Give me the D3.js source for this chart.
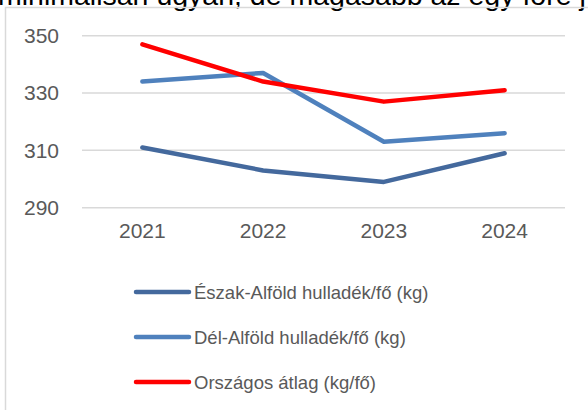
<!DOCTYPE html>
<meta charset="utf-8">
<style>
body { margin: 0; background: #fff; }
text { font-family: "Liberation Sans", Arial, sans-serif; fill: #595959; }
</style>
<svg width="588" height="410"></svg>
<script src="https://d3js.org/d3.v7.min.js"></script>
<script>

var years = ["2021", "2022", "2023", "2024"];
var eszakAlfold = [311, 303, 299, 309];
var delAlfold = [334, 337, 313, 316];
var orszagos = [347, 334, 327, 331];
var yTicks = [290, 310, 330, 350];
var seriesNames = ["Észak-Alföld hulladék/fő (kg)", "Dél-Alföld hulladék/fő (kg)", "Országos átlag (kg/fő)"];

var series = [
  { name: seriesNames[0], values: eszakAlfold, color: "#44699d" },
  { name: seriesNames[1], values: delAlfold, color: "#4f81bd" },
  { name: seriesNames[2], values: orszagos, color: "#ff0000" }
];

var svg = d3.select("svg");

// cut-off line of text from the document above the chart
svg.append("text")
    .attr("x", -2)
    .attr("y", 5)
    .style("fill", "#000")
    .style("font-size", "28.5px")
    .text("minimálisan ugyan, de magasabb az egy főre j");

// chart frame
svg.append("rect")
    .attr("x", 5.5).attr("y", 7.5)
    .attr("width", 620).attr("height", 430)
    .attr("fill", "none")
    .attr("stroke", "#d9d9d9")
    .attr("stroke-width", 1.5);

var x = d3.scaleBand().domain(years).range([82, 565]);
var y = d3.scaleLinear().domain([290, 350]).range([207.7, 35.7]);

// gridlines
svg.append("g").selectAll("line")
  .data(yTicks)
  .enter().append("line")
    .attr("x1", 82).attr("x2", 565)
    .attr("y1", function(d) { return y(d); })
    .attr("y2", function(d) { return y(d); })
    .attr("stroke", "#d9d9d9")
    .attr("stroke-width", 1.5);

var yAxis = d3.axisLeft(y).tickValues(yTicks).tickSize(0).tickPadding(0);
var gy = svg.append("g").attr("transform", "translate(59,0)").call(yAxis);
gy.select(".domain").remove();
gy.selectAll("text").style("font-size", "21px").attr("font-family", null).attr("fill", null);

var xAxis = d3.axisBottom(x).tickSize(0).tickPadding(0);
var gx = svg.append("g").attr("transform", "translate(0,223)").call(xAxis);
gx.select(".domain").remove();
gx.selectAll("text").style("font-size", "21px").attr("font-family", null).attr("fill", null);

var line = d3.line()
    .x(function(d, i) { return x(years[i]) + x.bandwidth() / 2; })
    .y(function(d) { return y(d); });

svg.append("g").selectAll("path")
  .data(series)
  .enter().append("path")
    .attr("d", function(d) { return line(d.values); })
    .attr("fill", "none")
    .attr("stroke", function(d) { return d.color; })
    .attr("stroke-width", 4.5)
    .attr("stroke-linecap", "round")
    .attr("stroke-linejoin", "round");

// legend
var legend = svg.append("g").selectAll("g")
  .data(series)
  .enter().append("g")
    .attr("transform", function(d, i) { return "translate(0," + (292 + i * 45) + ")"; });

legend.append("line")
    .attr("x1", 136).attr("x2", 189)
    .attr("stroke", function(d) { return d.color; })
    .attr("stroke-width", 4.5)
    .attr("stroke-linecap", "round");

legend.append("text")
    .attr("x", 194)
    .attr("dy", "0.36em")
    .style("font-size", "18.5px")
    .text(function(d) { return d.name; });

</script>
